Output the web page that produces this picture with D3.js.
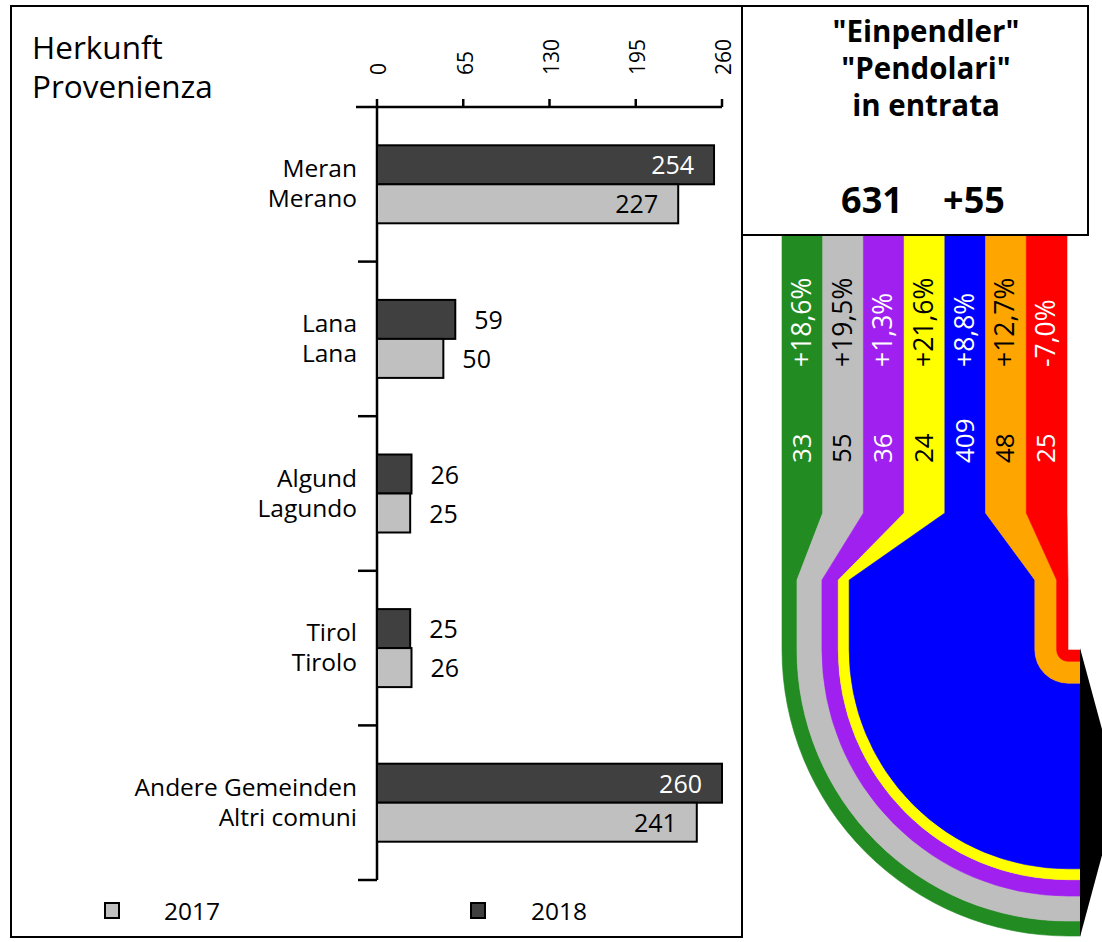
<!DOCTYPE html>
<html>
<head>
<meta charset="utf-8">
<script src="https://cdn.jsdelivr.net/npm/d3@7"></script>
<style>
  html, body { margin: 0; padding: 0; background: #fff; }
  svg { display: block; font-family: "Open Sans", sans-serif; }
</style>
</head>
<body>
<svg id="chart" width="1102" height="942"></svg>
<script>
// ---------- data ----------
const categoriesDe = ["Meran", "Lana", "Algund", "Tirol", "Andere Gemeinden"];
const categoriesIt = ["Merano", "Lana", "Lagundo", "Tirolo", "Altri comuni"];
const values2017 = [227, 50, 25, 26, 241];
const values2018 = [254, 59, 26, 25, 260];
const axisTicks = [0, 65, 130, 195, 260];
const years = ["2018", "2017"];

const flowValues = [33, 55, 36, 24, 409, 48, 25];
const flowChanges = ["+18,6%", "+19,5%", "+1,3%", "+21,6%", "+8,8%", "+12,7%", "-7,0%"];
const flowColors = ["#228B22", "#BEBEBE", "#A020F0", "#FFFF00", "#0000FF", "#FFA500", "#FF0000"];
const flowTextColors = ["#fff", "#000", "#fff", "#000", "#fff", "#000", "#fff"];
const totalLabel = "631";
const totalChange = "+55";
const headerLines = ["\"Einpendler\"", "\"Pendolari\"", "in entrata"];
const titleLines = ["Herkunft", "Provenienza"];

// ---------- setup ----------
const svg = d3.select("#chart");
const colorDark = "#404040", colorLight = "#C0C0C0";

// left frame
svg.append("rect").attr("x", 11).attr("y", 6).attr("width", 731).attr("height", 931)
  .attr("fill", "none").attr("stroke", "#000").attr("stroke-width", 2);

// title
svg.append("text").attr("x", 32).attr("y", 59).attr("font-size", 31.5).attr("fill", "#000")
  .selectAll("tspan").data(titleLines).join("tspan")
  .attr("x", 32).attr("dy", (d, i) => i === 0 ? 0 : 39).text(d => d);

// scales
const x = d3.scaleLinear().domain([0, 260]).range([377, 722]);
const y = d3.scaleBand().domain(categoriesDe).range([107, 880]).padding(0);
const yearScale = d3.scaleBand().domain(years).range([-39, 39]);

// top axis
const axisY = 107;
svg.append("line").attr("x1", 356).attr("x2", x(260)).attr("y1", axisY).attr("y2", axisY)
  .attr("stroke", "#000").attr("stroke-width", 2.5);
svg.selectAll(".xtick").data(axisTicks).join("line")
  .attr("x1", d => x(d)).attr("x2", d => x(d)).attr("y1", axisY).attr("y2", axisY - 8)
  .attr("stroke", "#000").attr("stroke-width", 2.5);
svg.selectAll(".xlab").data(axisTicks).join("text")
  .attr("transform", d => `translate(${x(d) + 2},75) rotate(-90)`)
  .attr("dy", "0.35em").attr("font-size", 21).attr("fill", "#000").text(d => d);

// left axis
svg.append("line").attr("x1", x(0)).attr("x2", x(0)).attr("y1", axisY).attr("y2", 880)
  .attr("stroke", "#000").attr("stroke-width", 2.5);
const bandEdges = categoriesDe.map(c => y(c) + y.bandwidth());
svg.selectAll(".ytick").data(bandEdges).join("line")
  .attr("x1", 358).attr("x2", x(0)).attr("y1", d => d).attr("y2", d => d)
  .attr("stroke", "#000").attr("stroke-width", 2.5);

// category labels
categoriesDe.forEach((c, i) => {
  const cy = y(c) + y.bandwidth() / 2;
  svg.append("text").attr("x", 357).attr("y", cy - 7).attr("text-anchor", "end")
    .attr("font-size", 24.5).attr("fill", "#000").text(c);
  svg.append("text").attr("x", 357).attr("y", cy + 23).attr("text-anchor", "end")
    .attr("font-size", 24.5).attr("fill", "#000").text(categoriesIt[i]);
});

// bars
const barData = [];
categoriesDe.forEach((c, i) => {
  barData.push({ cat: c, year: "2018", v: values2018[i] });
  barData.push({ cat: c, year: "2017", v: values2017[i] });
});
const barG = svg.append("g");
barG.selectAll("rect").data(barData).join("rect")
  .attr("x", x(0))
  .attr("y", d => y(d.cat) + y.bandwidth() / 2 + yearScale(d.year))
  .attr("width", d => x(d.v) - x(0))
  .attr("height", yearScale.bandwidth())
  .attr("fill", d => d.year === "2018" ? colorDark : colorLight)
  .attr("stroke", "#000").attr("stroke-width", 2);
barG.selectAll("text").data(barData).join("text")
  .attr("x", d => d.v > 130 ? x(d.v) - 20 : x(d.v) + 19)
  .attr("y", d => y(d.cat) + y.bandwidth() / 2 + yearScale(d.year) + yearScale.bandwidth() / 2 + 9.5)
  .attr("text-anchor", d => d.v > 130 ? "end" : "start")
  .attr("font-size", 25)
  .attr("fill", d => (d.v > 130 && d.year === "2018") ? "#fff" : "#000")
  .text(d => d.v);

// legend
const legendItems = [
  { label: "2017", color: colorLight, x: 105, tx: 164 },
  { label: "2018", color: colorDark, x: 471, tx: 531 }
];
legendItems.forEach(l => {
  svg.append("rect").attr("x", l.x).attr("y", 903).attr("width", 14).attr("height", 15)
    .attr("fill", l.color).attr("stroke", "#000").attr("stroke-width", 2);
  svg.append("text").attr("x", l.tx).attr("y", 920).attr("font-size", 24.5).attr("fill", "#000").text(l.label);
});

// ---------- flow diagram ----------
const topY = 235, taperStart = 513, taperEnd = 580, arcY = 650, endX = 1080;
const flowIdx = flowValues.map((d, i) => i);
const xTop = d3.scaleBand().domain(flowIdx).range([782, 1067]);
const total = d3.sum(flowValues);
const wScale = d3.scaleLinear().domain([0, total]).range([0, 286]);
const bottomLeft = 782;
const cum = d3.cumsum(flowValues);
const cx = bottomLeft + wScale(total);

const flowG = svg.append("g");
flowValues.forEach((v, i) => {
  const x0t = xTop(i), x1t = xTop(i) + xTop.bandwidth();
  const x0b = bottomLeft + wScale(cum[i] - v), x1b = bottomLeft + wScale(cum[i]);
  const r0 = Math.max(0, cx - x0b), r1 = Math.max(0, cx - x1b);
  let p = `M${x0t},${topY} L${x0t},${taperStart} L${x0b},${taperEnd} L${x0b},${arcY}`;
  p += ` A${r0},${r0} 0 0 0 ${cx},${arcY + r0}`;
  p += ` L${endX},${arcY + r0} L${endX},${arcY + r1} L${cx},${arcY + r1}`;
  if (r1 > 0) p += ` A${r1},${r1} 0 0 1 ${cx - r1},${arcY}`;
  p += ` L${x1b},${arcY} L${x1b},${taperEnd} L${x1t},${taperStart} L${x1t},${topY} Z`;
  flowG.append("path").attr("d", p).attr("fill", flowColors[i]).attr("stroke", flowColors[i]).attr("stroke-width", 0.6);
});
// column labels
flowValues.forEach((v, i) => {
  const xc = xTop(i) + xTop.bandwidth() / 2 - 1;
  flowG.append("text").attr("transform", `translate(${xc},367) rotate(-90)`)
    .attr("dy", "0.36em").attr("font-size", 26.5).attr("fill", flowTextColors[i]).text(flowChanges[i]);
  flowG.append("text").attr("transform", `translate(${xc},463) rotate(-90)`)
    .attr("dy", "0.36em").attr("font-size", 26).attr("fill", flowTextColors[i]).text(v);
});
// arrow head
svg.append("path").attr("d", `M${endX},648 L1119,792 L${endX},937 Z`).attr("fill", "#000");

// header box
svg.append("rect").attr("x", 742).attr("y", 6).attr("width", 346).attr("height", 229)
  .attr("fill", "#fff").attr("stroke", "#000").attr("stroke-width", 2);
svg.append("text").attr("text-anchor", "middle").attr("font-size", 29.5).attr("font-weight", "bold")
  .attr("fill", "#000")
  .selectAll("tspan").data(headerLines).join("tspan")
  .attr("x", 926).attr("y", (d, i) => 42 + i * 37).text(d => d);
svg.append("text").attr("x", 872).attr("y", 213).attr("text-anchor", "middle")
  .attr("font-size", 36).attr("font-weight", "bold").attr("fill", "#000").text(totalLabel);
svg.append("text").attr("x", 974).attr("y", 213).attr("text-anchor", "middle")
  .attr("font-size", 36).attr("font-weight", "bold").attr("fill", "#000").text(totalChange);
</script>
</body>
</html>
